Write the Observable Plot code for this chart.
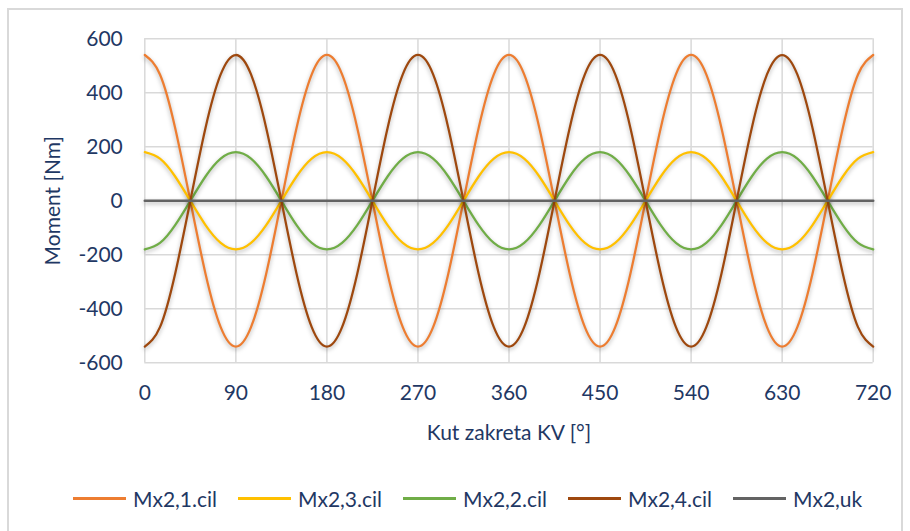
<!DOCTYPE html>
<html>
<head>
<meta charset="utf-8">
<script src="https://cdn.jsdelivr.net/npm/d3@7"></script>
<script src="https://cdn.jsdelivr.net/npm/@observablehq/plot@0.6"></script>
<style>
  html, body { margin: 0; padding: 0; background: #fff; }
  #wrap { position: relative; width: 910px; height: 531px; overflow: hidden; font-family: Lato, "Open Sans", sans-serif; color: #1f3864; }
  #frame { position: absolute; left: 7px; top: 8px; width: 896px; height: 540px; border: 2px solid #d9d9d9; box-sizing: border-box; }
  #chart { position: absolute; left: 0; top: 0; }
  #legend { position: absolute; left: 73px; top: 486px; display: flex; font-size: 21px; }
  .item { width: 165px; display: flex; align-items: center; white-space: nowrap; }
  .sw { width: 53px; height: 3px; margin-right: 7px; flex: none; }
</style>
</head>
<body>
<div id="wrap">
  <div id="frame"></div>
  <div id="chart"></div>
  <div id="legend"></div>
</div>
<script>
// Crank angle [°]
const angles = [0,15,30,45,60,75,90,105,120,135,150,165,180,195,210,225,240,255,270,285,300,315,330,345,360,375,390,405,420,435,450,465,480,495,510,525,540,555,570,585,600,615,630,645,660,675,690,705,720];

const seriesNames = ["Mx2,1.cil", "Mx2,3.cil", "Mx2,2.cil", "Mx2,4.cil", "Mx2,uk"];
const seriesColors = ["#ed7d31", "#ffc000", "#70ad47", "#9e480e", "#636363"];

const mx21 = [540,468,270,0,-270,-468,-540,-468,-270,0,270,468,540,468,270,0,-270,-468,-540,-468,-270,0,270,468,540,468,270,0,-270,-468,-540,-468,-270,0,270,468,540,468,270,0,-270,-468,-540,-468,-270,0,270,468,540];
const mx23 = [180,156,90,0,-90,-156,-180,-156,-90,0,90,156,180,156,90,0,-90,-156,-180,-156,-90,0,90,156,180,156,90,0,-90,-156,-180,-156,-90,0,90,156,180,156,90,0,-90,-156,-180,-156,-90,0,90,156,180];
const mx22 = [-180,-156,-90,0,90,156,180,156,90,0,-90,-156,-180,-156,-90,0,90,156,180,156,90,0,-90,-156,-180,-156,-90,0,90,156,180,156,90,0,-90,-156,-180,-156,-90,0,90,156,180,156,90,0,-90,-156,-180];
const mx24 = [-540,-468,-270,0,270,468,540,468,270,0,-270,-468,-540,-468,-270,0,270,468,540,468,270,0,-270,-468,-540,-468,-270,0,270,468,540,468,270,0,-270,-468,-540,-468,-270,0,270,468,540,468,270,0,-270,-468,-540];
const mx2uk = [0,0,0,0,0,0,0,0,0,0,0,0,0,0,0,0,0,0,0,0,0,0,0,0,0,0,0,0,0,0,0,0,0,0,0,0,0,0,0,0,0,0,0,0,0,0,0,0,0];

const xTicks = [0,90,180,270,360,450,540,630,720];
const yTicks = [-600,-400,-200,0,200,400,600];

const seriesValues = [mx21, mx23, mx22, mx24, mx2uk];
const rows = [];
seriesValues.forEach((vals, s) => {
  vals.forEach((v, i) => rows.push({angle: angles[i], value: v, series: seriesNames[s]}));
});

const chart = Plot.plot({
  width: 910,
  height: 450,
  marginLeft: 144.3,
  marginRight: 37.3,
  marginTop: 38.3,
  marginBottom: 87.7,
  style: {fontFamily: "Lato, 'Open Sans', sans-serif", fontSize: "21px", color: "#1f3864", background: "transparent", overflow: "visible"},
  x: {domain: [0, 720], ticks: xTicks, tickSize: 0, tickPadding: 22, tickFormat: d => String(d), label: "Kut zakreta KV [°]", labelArrow: "none", labelAnchor: "center", labelOffset: 77},
  y: {domain: [-600, 600], ticks: yTicks, tickSize: 0, tickPadding: 22, tickFormat: d => String(d), label: "Moment [Nm]", labelArrow: "none", labelAnchor: "center", labelOffset: 100},
  color: {domain: seriesNames, range: seriesColors},
  marks: [
    Plot.ruleX(xTicks, {stroke: "#d9d9d9", strokeWidth: 1.5}),
    Plot.ruleY(yTicks, {stroke: "#d9d9d9", strokeWidth: 1.5}),
    Plot.line(rows, {x: "angle", y: "value", z: "series", stroke: "series", strokeWidth: 2.25, curve: "natural"})
  ]
});
document.getElementById("chart").appendChild(chart);

// strip any auto-added arrows from axis labels
d3.select(chart).selectAll("text").each(function() {
  const t = d3.select(this);
  const s = t.text();
  if (/[→↑]/.test(s)) t.text(s.replace(/\s*[→↑]\s*/g, "").trim());
});

d3.select(chart).selectAll('g[aria-label="line"] path')
  .style("filter", "drop-shadow(0px 2px 2px rgba(0,0,0,0.3))");
d3.select(chart).selectAll('g[aria-label="line"] path')
  .filter(function() { return d3.select(this).attr("stroke") === "#636363"; })
  .attr("stroke-width", 2.6);

const legend = d3.select("#legend");
seriesNames.forEach((name, i) => {
  const item = legend.append("div").attr("class", "item");
  item.append("div").attr("class", "sw").style("background", seriesColors[i]);
  item.append("span").text(name);
});
</script>
</body>
</html>
